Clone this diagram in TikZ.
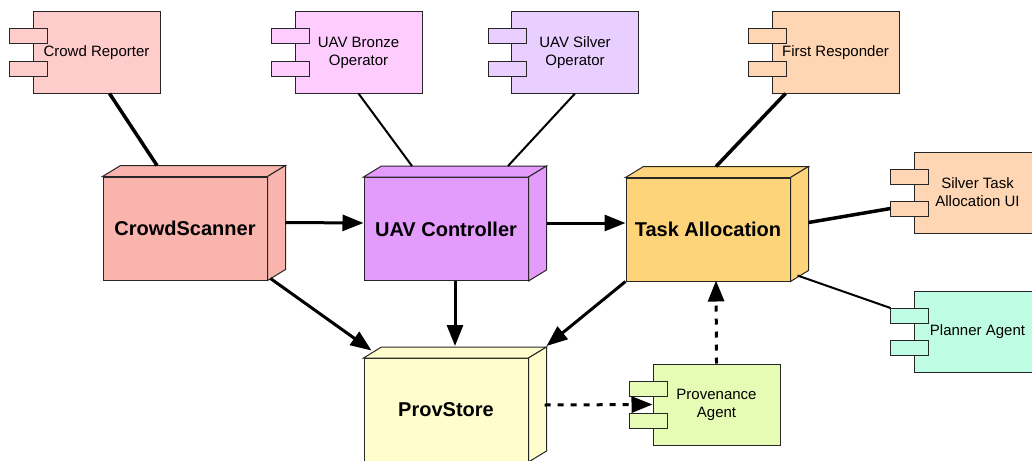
\documentclass[tikz,border=0pt]{standalone}
\usepackage{fontspec}
\setmainfont{Liberation Sans}
\usetikzlibrary{calc,arrows.meta}

\definecolor{reporterpink}{HTML}{FFCCCC}
\definecolor{scannersalmon}{HTML}{F9B4AE}
\definecolor{bronzepink}{HTML}{FFCCFF}
\definecolor{silverlilac}{HTML}{E8CFFF}
\definecolor{uavviolet}{HTML}{E39BFC}
\definecolor{responderpeach}{HTML}{FFD6B3}
\definecolor{allocorange}{HTML}{FDD479}
\definecolor{plannermint}{HTML}{BFFCE4}
\definecolor{agentlime}{HTML}{E6FCB4}
\definecolor{storeyellow}{HTML}{FFFDCB}

\tikzset{
	edge/.style={draw=black!85, line width=1pt},
	nodeface/.style={edge, minimum width=164, minimum height=103, inner sep=0pt,
		font=\fontsize{20}{24}\selectfont\bfseries},
	compbox/.style={edge, minimum width=127, minimum height=81, inner sep=0pt,
		align=center, font=\fontsize{15}{18}\selectfont},
	link/.style={line width=#1},
	link/.default=3.5pt,
	flow/.style={line width=3pt, -{Triangle[length=21pt,width=16pt]}},
	provflow/.style={flow, dash pattern=on 6pt off 7pt}
}

% 3d box: name, centre of front face, colour, label
\newcommand{\nodebox}[4]{
	\node[nodeface, fill=#3] (#1) at (#2) {#4};
	\draw[edge, fill=#3] (#1.north west) -- ++(18,-11) -- ($(#1.north east)+(18,-11)$) -- (#1.north east) -- cycle;
	\draw[edge, fill=#3] (#1.north east) -- ++(18,-11) -- ($(#1.south east)+(18,-11)$) -- (#1.south east) -- cycle;
}

% component: name, centre, colour, label
\newcommand{\component}[4]{
	\node[compbox, fill=#3] (#1) at (#2) {#4};
	\foreach \ty in {-16,16}
		\draw[edge, fill=#3] ($(#1.west)+(-23,\ty-7.5)$) rectangle ++(38,15);
}

\begin{document}
\begin{tikzpicture}[x=1pt, y=-1pt]
	\useasboundingbox (0,0) rectangle (1032,460);
	\clip (0,0) rectangle (1032,460);
	
	\component{reporter}{96.5,52.5}{reporterpink}{Crowd Reporter}
	\component{bronze}{358.5,52.5}{bronzepink}{UAV Bronze\\Operator}
	\component{silver}{575,52.5}{silverlilac}{UAV Silver\\Operator}
	\component{responder}{835.5,52.5}{responderpeach}{First Responder}
	\component{taskui}{977.5,192.5}{responderpeach}{Silver Task\\Allocation UI}
	\component{planner}{977.5,332}{plannermint}{Planner Agent}
	\component{provagent}{716.5,404.5}{agentlime}{Provenance\\Agent}
	
	\nodebox{scanner}{185,228.5}{scannersalmon}{CrowdScanner}
	\nodebox{uav}{446,229}{uavviolet}{UAV Controller}
	\nodebox{alloc}{708,229.5}{allocorange}{Task Allocation}
	\nodebox{store}{446,410}{storeyellow}{ProvStore}
	
	% users
	\draw[link] ($(reporter.south)+(13,0)$) -- ($(scanner.north)+(-28,-11)$);
	\draw[link=2pt] (bronze.south) -- ($(uav.north)+(-34,-11)$);
	\draw[link=2pt] (silver.south) -- ($(uav.north)+(62,-11)$);
	\draw[link] ($(responder.south)+(-50,0)$) -- ($(alloc.north)+(8,-11)$);
	\draw[link] ($(alloc.east)+(18,-7)$) -- ($(taskui.west)+(-23,16)$);
	\draw[link=2pt] ($(alloc.south east)+(7,-6)$) -- ($(planner.west)+(-23,-24)$);
	
	% data flow
	\draw[flow] ($(scanner.east)+(18,-6)$) -- ($(uav.west)+(0,-6)$);
	\draw[flow] ($(uav.east)+(18,-6)$) -- ($(alloc.west)+(0,-6.5)$);
	\draw[flow] ($(scanner.south east)+(3,-2)$) -- ($(store.north west)+(8,-7.5)$);
	\draw[flow] ($(uav.south)+(9,0)$) -- ($(store.north)+(9,-12)$);
	\draw[flow] (alloc.south west) -- ($(store.north east)+(18,-12)$);
	
	% provenance
	\draw[provflow] ($(store.east)+(16,-5)$) -- (provagent.west);
	\draw[provflow] (provagent.north) -- ($(alloc.south)+(8,-1)$);
\end{tikzpicture}
\end{document}
